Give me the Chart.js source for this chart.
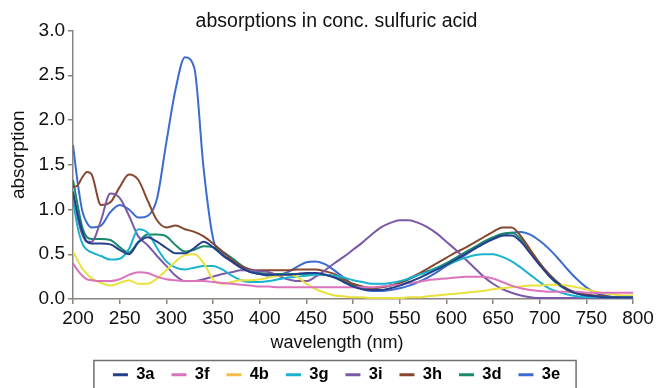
<!DOCTYPE html>
<html>
<head>
<meta charset="utf-8">
<title>absorptions in conc. sulfuric acid</title>
<script src="https://cdn.jsdelivr.net/npm/chart.js@4/dist/chart.umd.min.js"></script>
<style>
  html, body { margin: 0; padding: 0; background: #fff; }
  canvas { display: block; }
</style>
</head>
<body>
<canvas id="spectra" width="657" height="388"></canvas>
<script>
// wavelength grid (nm) shared by all spectra
var wavelengths = [200, 205, 210, 215, 220, 230, 240, 250, 260, 270, 280, 290, 300, 310, 320, 330, 340, 350, 360, 370,
  380, 390, 400, 410, 420, 430, 440, 450, 460, 470, 480, 490, 500, 510, 520, 530, 540, 550, 560, 570,
  580, 590, 600, 610, 620, 630, 640, 650, 660, 670, 680, 690, 700, 710, 720, 730, 740, 750, 760, 770,
  780, 790, 800];

var abs3a = [1.20, 0.95, 0.75, 0.64, 0.62, 0.62, 0.61, 0.55, 0.50, 0.63, 0.69, 0.64, 0.57, 0.51, 0.51, 0.57, 0.64, 0.58, 0.49, 0.42,
  0.35, 0.30, 0.28, 0.27, 0.27, 0.27, 0.28, 0.29, 0.29, 0.27, 0.24, 0.19, 0.14, 0.11, 0.10, 0.10, 0.12, 0.15, 0.19, 0.23,
  0.28, 0.33, 0.38, 0.44, 0.50, 0.56, 0.62, 0.67, 0.71, 0.71, 0.64, 0.51, 0.38, 0.26, 0.17, 0.10, 0.06, 0.04, 0.03, 0.02,
  0.02, 0.02, 0.02];
var abs3f = [0.40, 0.32, 0.26, 0.22, 0.21, 0.20, 0.20, 0.22, 0.27, 0.30, 0.29, 0.25, 0.22, 0.21, 0.20, 0.20, 0.20, 0.19, 0.18, 0.17,
  0.16, 0.15, 0.14, 0.14, 0.13, 0.13, 0.13, 0.13, 0.13, 0.13, 0.13, 0.13, 0.13, 0.13, 0.13, 0.14, 0.15, 0.16, 0.18, 0.19,
  0.21, 0.22, 0.23, 0.24, 0.25, 0.25, 0.25, 0.23, 0.19, 0.15, 0.12, 0.10, 0.09, 0.08, 0.08, 0.08, 0.08, 0.07, 0.07, 0.07,
  0.07, 0.07, 0.07];
var abs4b = [0.53, 0.43, 0.34, 0.28, 0.23, 0.18, 0.15, 0.18, 0.21, 0.17, 0.17, 0.23, 0.32, 0.42, 0.49, 0.50, 0.40, 0.22, 0.17, 0.19,
  0.21, 0.21, 0.22, 0.24, 0.26, 0.27, 0.25, 0.17, 0.11, 0.07, 0.04, 0.03, 0.02, 0.02, 0.01, 0.01, 0.01, 0.01, 0.02, 0.02,
  0.03, 0.04, 0.05, 0.06, 0.07, 0.08, 0.09, 0.11, 0.12, 0.13, 0.14, 0.15, 0.15, 0.16, 0.16, 0.15, 0.13, 0.11, 0.08, 0.06,
  0.05, 0.04, 0.04];
var abs3g = [1.10, 0.80, 0.62, 0.55, 0.52, 0.48, 0.44, 0.45, 0.56, 0.78, 0.74, 0.57, 0.42, 0.35, 0.33, 0.35, 0.37, 0.37, 0.33, 0.26,
  0.21, 0.19, 0.19, 0.20, 0.22, 0.24, 0.25, 0.26, 0.27, 0.27, 0.26, 0.24, 0.21, 0.19, 0.17, 0.17, 0.18, 0.20, 0.23, 0.27,
  0.30, 0.34, 0.38, 0.42, 0.46, 0.49, 0.50, 0.50, 0.47, 0.42, 0.35, 0.27, 0.19, 0.12, 0.08, 0.05, 0.03, 0.02, 0.02, 0.02,
  0.02, 0.02, 0.02];
var abs3i = [1.15, 0.90, 0.72, 0.64, 0.64, 0.88, 1.18, 1.13, 0.93, 0.70, 0.60, 0.48, 0.37, 0.26, 0.20, 0.20, 0.22, 0.25, 0.28, 0.30,
  0.32, 0.32, 0.31, 0.30, 0.26, 0.22, 0.20, 0.20, 0.25, 0.32, 0.40, 0.47, 0.55, 0.63, 0.72, 0.80, 0.85, 0.88, 0.88, 0.85,
  0.80, 0.73, 0.64, 0.55, 0.45, 0.35, 0.25, 0.17, 0.11, 0.07, 0.04, 0.02, 0.01, 0.01, 0.01, 0.01, 0.01, 0.01, 0.01, 0.01,
  0.01, 0.01, 0.01];
var abs3h = [1.25, 1.27, 1.36, 1.42, 1.39, 1.05, 1.08, 1.25, 1.39, 1.33, 1.10, 0.88, 0.80, 0.82, 0.78, 0.75, 0.70, 0.62, 0.53, 0.44,
  0.37, 0.33, 0.32, 0.32, 0.32, 0.32, 0.33, 0.33, 0.33, 0.31, 0.28, 0.22, 0.17, 0.14, 0.12, 0.13, 0.15, 0.18, 0.23, 0.28,
  0.34, 0.40, 0.46, 0.52, 0.57, 0.63, 0.69, 0.75, 0.80, 0.80, 0.70, 0.55, 0.40, 0.28, 0.18, 0.11, 0.07, 0.05, 0.04, 0.03,
  0.02, 0.02, 0.02];
var abs3d = [1.33, 1.05, 0.80, 0.69, 0.67, 0.67, 0.66, 0.58, 0.52, 0.64, 0.72, 0.72, 0.70, 0.60, 0.53, 0.55, 0.59, 0.58, 0.53, 0.46,
  0.38, 0.32, 0.29, 0.28, 0.28, 0.28, 0.28, 0.28, 0.28, 0.27, 0.25, 0.20, 0.15, 0.12, 0.12, 0.13, 0.15, 0.18, 0.22, 0.27,
  0.31, 0.35, 0.40, 0.46, 0.52, 0.58, 0.64, 0.69, 0.73, 0.74, 0.67, 0.54, 0.40, 0.26, 0.16, 0.10, 0.06, 0.04, 0.03, 0.02,
  0.02, 0.02, 0.02];
var abs3e = [1.72, 1.30, 0.98, 0.85, 0.80, 0.82, 0.97, 1.05, 1.00, 0.91, 0.93, 1.12, 1.75, 2.35, 2.70, 2.58, 1.45, 0.68, 0.50, 0.42,
  0.35, 0.30, 0.28, 0.26, 0.27, 0.30, 0.36, 0.41, 0.42, 0.39, 0.32, 0.24, 0.16, 0.11, 0.09, 0.09, 0.10, 0.12, 0.15, 0.19,
  0.24, 0.30, 0.37, 0.43, 0.49, 0.56, 0.62, 0.67, 0.71, 0.74, 0.75, 0.72, 0.65, 0.56, 0.45, 0.33, 0.22, 0.13, 0.07, 0.04,
  0.02, 0.01, 0.01];

var seriesNames = ['3a', '3f', '4b', '3g', '3i', '3h', '3d', '3e'];
var seriesValues = [abs3a, abs3f, abs4b, abs3g, abs3i, abs3h, abs3d, abs3e];
var lineColors = ['#263f8a', '#db74bd', '#e9e23e', '#1ab3cf', '#7a5aa6', '#86472f', '#1a8a6f', '#3c6bd2'];
var keyColors = ['#263f8a', '#db74bd', '#f4bd4a', '#1ab3cf', '#7a5aa6', '#86472f', '#1a8a6f', '#3c6bd2'];

var xTicks = [200, 250, 300, 350, 400, 450, 500, 550, 600, 650, 700, 750, 800];
var yTicks = [0.0, 0.5, 1.0, 1.5, 2.0, 2.5, 3.0];

var fontFamily = '"Liberation Sans", Arial, Helvetica, sans-serif';
var axisColor = '#8a8480';

Chart.defaults.font.family = fontFamily;
Chart.defaults.color = '#111';

// title and key sit a little right of the plot centre
var nudgeBoxes = {
  id: 'nudgeBoxes',
  afterLayout: function (chart) {
    [chart.titleBlock, chart.legend].forEach(function (box) {
      if (!box) return;
      box.left += 20;
      box.right += 20;
    });
    chart.legend.top += 5;
    chart.legend.bottom += 5;
  }
};

// frame round the key
var legendFrame = {
  id: 'legendFrame',
  afterDraw: function (chart) {
    var boxes = chart.legend.legendHitBoxes;
    if (!boxes || !boxes.length) return;
    var first = boxes[0], last = boxes[boxes.length - 1];
    var ctx = chart.ctx;
    ctx.save();
    ctx.strokeStyle = '#707070';
    ctx.lineWidth = 1.5;
    ctx.strokeRect(first.left - 19, first.top - 6, last.left + last.width + 35 - first.left, first.height + 40);
    ctx.restore();
  }
};

// axis captions
var axisTitles = {
  id: 'axisTitles',
  afterDraw: function (chart) {
    var a = chart.chartArea, ctx = chart.ctx;
    ctx.save();
    ctx.fillStyle = '#111';
    ctx.textAlign = 'center';
    ctx.textBaseline = 'middle';
    ctx.font = '18px ' + fontFamily;
    ctx.fillText('wavelength (nm)', (a.left + a.right) / 2 - 16, a.bottom + 44);
    ctx.translate(19, (a.top + a.bottom) / 2 - 10);
    ctx.rotate(-Math.PI / 2);
    ctx.font = '19px ' + fontFamily;
    ctx.fillText('absorption', 0, 0);
    ctx.restore();
  }
};

var datasets = seriesNames.map(function (name, k) {
  return {
    label: name,
    data: wavelengths.map(function (w, i) { return { x: w, y: seriesValues[k][i] }; }),
    borderColor: lineColors[k],
    backgroundColor: keyColors[k],
    borderWidth: 2,
    pointRadius: 0,
    cubicInterpolationMode: 'monotone',
    fill: false
  };
});

var ctx = document.getElementById('spectra').getContext('2d');
var spectraChart = new Chart(ctx, {
  type: 'line',
  data: { datasets: datasets },
  options: {
    responsive: false,
    animation: false,
    layout: { padding: { left: 0, right: 24, top: 0, bottom: 0 } },
    plugins: {
      title: {
        display: true,
        text: 'absorptions in conc. sulfuric acid',
        font: { size: 19.5, weight: 'normal', lineHeight: 1 },
        color: '#111',
        padding: { top: 12, bottom: -1 }
      },
      legend: {
        position: 'bottom',
        labels: {
          boxWidth: 15,
          boxHeight: 3,
          padding: 17,
          color: '#000',
          font: { size: 16.5, weight: 'bold' },
          generateLabels: function (chart) {
            return Chart.defaults.plugins.legend.labels.generateLabels(chart).map(function (item) {
              item.lineWidth = 0;
              item.fillStyle = keyColors[item.datasetIndex];
              return item;
            });
          }
        }
      },
      tooltip: { enabled: false }
    },
    scales: {
      x: {
        type: 'linear',
        min: xTicks[0],
        max: xTicks[xTicks.length - 1],
        afterFit: function (scale) { scale.height = 45.5; },
        ticks: {
          stepSize: xTicks[1] - xTicks[0],
          autoSkip: false,
          maxRotation: 0,
          labelOffset: 5,
          padding: 3,
          font: { size: 19 },
          color: '#111'
        },
        grid: { drawOnChartArea: false, drawTicks: true, tickLength: 5, color: axisColor, lineWidth: 1.5 },
        border: { color: axisColor, width: 1.5 }
      },
      y: {
        min: yTicks[0],
        max: yTicks[yTicks.length - 1],
        afterFit: function (scale) { scale.width = 73; },
        ticks: {
          stepSize: yTicks[1] - yTicks[0],
          padding: 3,
          font: { size: 19 },
          color: '#111',
          callback: function (v) { return Number(v).toFixed(1); }
        },
        grid: { drawOnChartArea: false, drawTicks: true, tickLength: 5, color: axisColor, lineWidth: 1.5 },
        border: { color: axisColor, width: 1.5 }
      }
    }
  },
  plugins: [nudgeBoxes, legendFrame, axisTitles]
});
</script>
</body>
</html>
